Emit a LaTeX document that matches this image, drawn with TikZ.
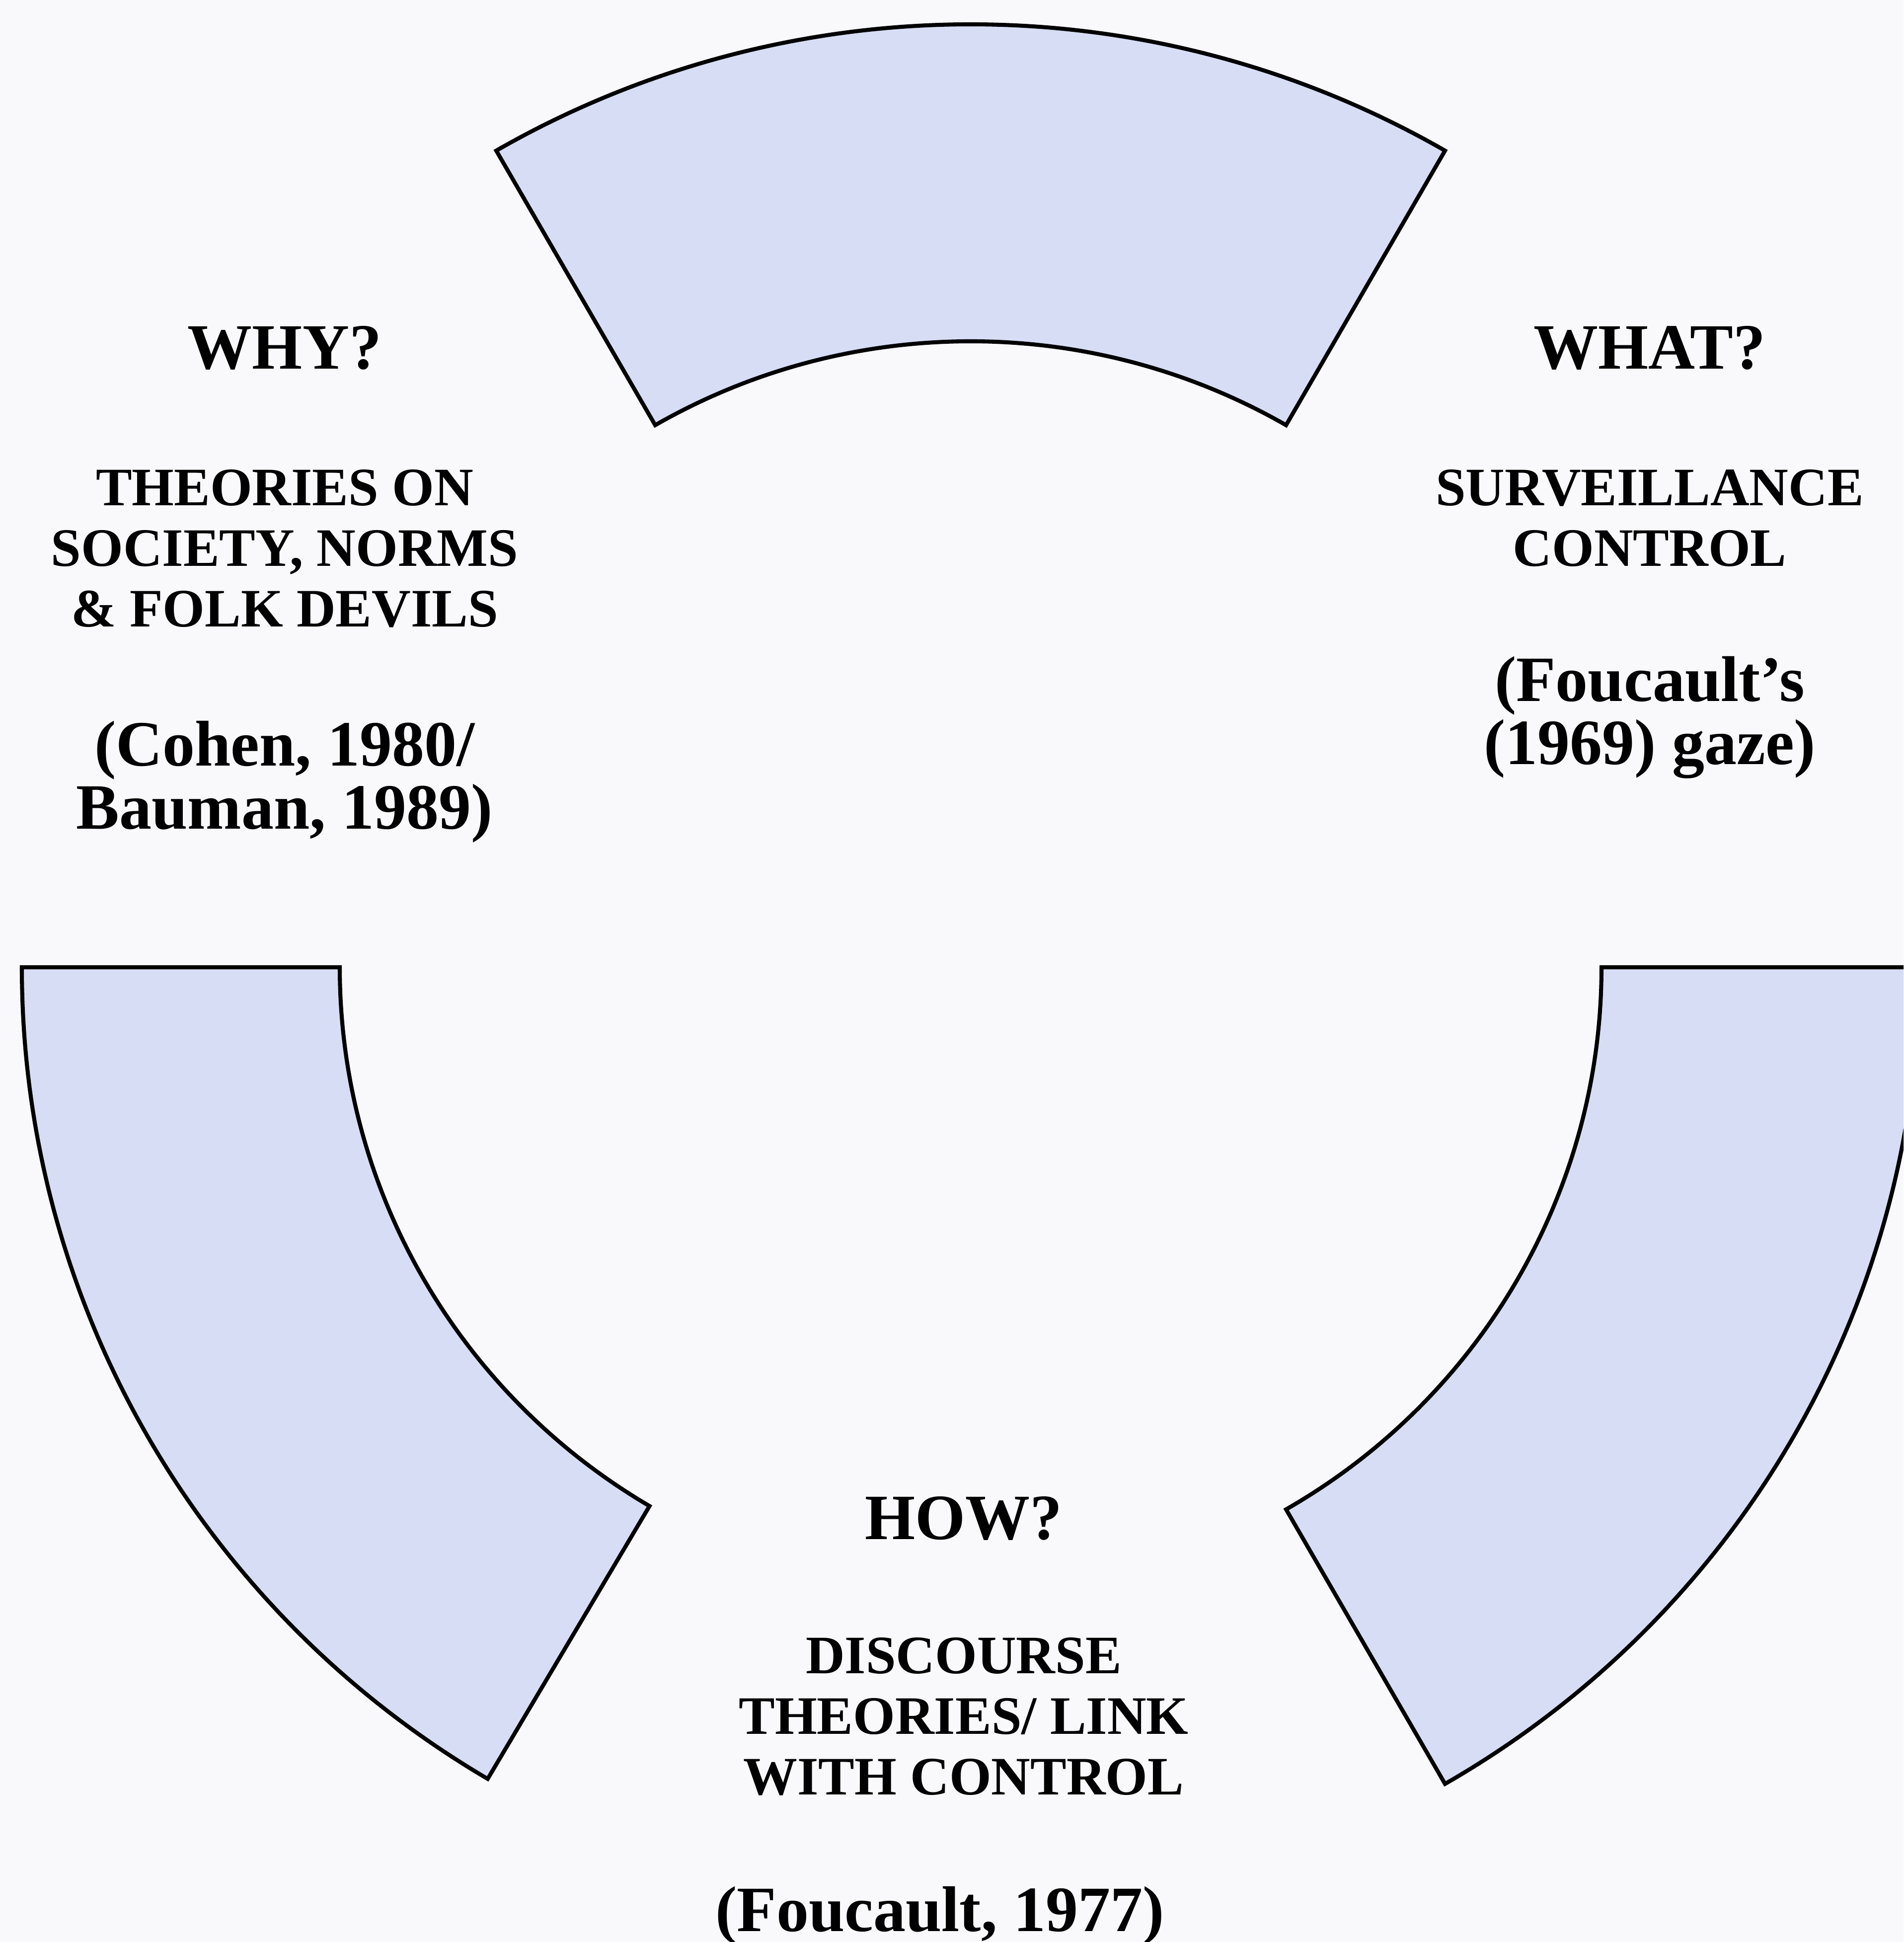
\documentclass[tikz,border=0pt]{standalone}
\usepackage{fontspec}
\setmainfont{Liberation Serif}
\usepackage{tikz}
\pgfdeclarelayer{background}
\pgfdeclarelayer{foreground}
\pgfsetlayers{background,main,foreground}
\definecolor{paper}{RGB}{249,249,252}
\definecolor{ringfill}{RGB}{214,221,244}
\tikzset{
  ringpart/.style={draw=black, line width=2.3pt, fill=ringfill, line join=miter},
  head/.style={inner sep=0pt, anchor=base, font=\fontsize{37}{40}\selectfont\bfseries},
  body/.style={inner sep=0pt, anchor=north, align=center, font=\fontsize{31}{34.7}\selectfont\bfseries},
  cite/.style={inner sep=0pt, anchor=north, align=center, font=\fontsize{37}{36}\selectfont\bfseries}
}

\begin{document}
\begin{tikzpicture}
\begin{pgfonlayer}{background}
\fill[paper] (0,0) rectangle (38.32,39.09);
\end{pgfonlayer}
\useasboundingbox (0,0) rectangle (38.32,39.09);
\clip (0,0) rectangle (38.32,39.09);
\coordinate (hub) at (19.54,19.62);
% top part
\draw[ringpart] ([shift={(hub)}]60:19.1 and 18.98) arc[start angle=60, end angle=120, x radius=19.1, y radius=18.98] -- ([shift={(hub)}]120:12.7 and 12.6) arc[start angle=120, end angle=60, x radius=12.7, y radius=12.6] -- cycle;
% left part
\draw[ringpart] ([shift={(hub)}]180:19.1 and 18.98) arc[start angle=180, end angle=239.4, x radius=19.1, y radius=18.98] -- ([shift={(hub)}]239.4:12.7 and 12.6) arc[start angle=239.4, end angle=180, x radius=12.7, y radius=12.6] -- cycle;
% right part
\draw[ringpart] ([shift={(hub)}]300:19.1 and 18.98) arc[start angle=300, end angle=360, x radius=19.1, y radius=18.98] -- ([shift={(hub)}]360:12.7 and 12.6) arc[start angle=360, end angle=300, x radius=12.7, y radius=12.6] -- cycle;
\begin{pgfonlayer}{foreground}
% why
\node[head] (why) at (5.73,31.66) {WHY?};
\node[body] (whybody) at (5.73,29.64) {THEORIES ON\\SOCIETY, NORMS\\\& FOLK DEVILS};
\node[cite] (whycite) at (5.73,24.58) {(Cohen, 1980/\\Bauman, 1989)};
% what
\node[head] (what) at (33.21,31.66) {WHAT?};
\node[body] (whatbody) at (33.21,29.64) {SURVEILLANCE\\CONTROL};
\node[cite] (whatcite) at (33.21,25.88) {(Foucault's\\(1969) gaze)};
% how
\node[head] (how) at (19.40,8.10) {HOW?};
\node[body] (howbody) at (19.40,6.13) {DISCOURSE\\THEORIES/ LINK\\WITH CONTROL};
\node[head] (howcite) at (18.92,0.22) {(Foucault, 1977)};
\end{pgfonlayer}
\end{tikzpicture}
\end{document}
